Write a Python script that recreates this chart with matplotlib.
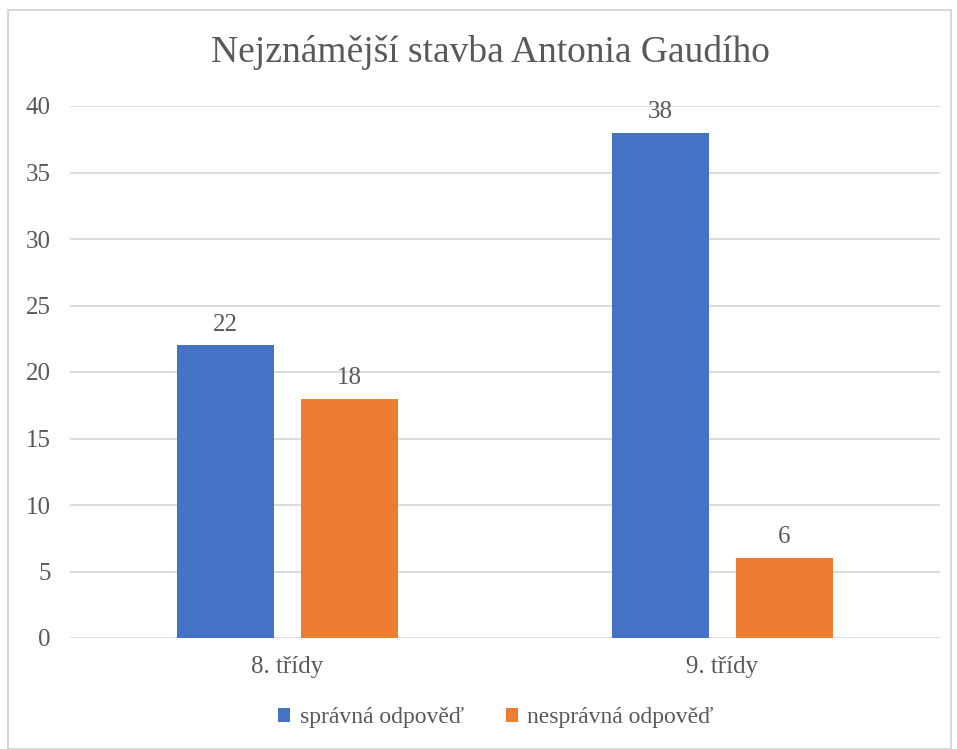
import matplotlib
matplotlib.use("Agg")
import matplotlib.pyplot as plt
from matplotlib.patches import Rectangle
import numpy as np

categories = ["8. třídy", "9. třídy"]
series_names = ["správná odpověď", "nesprávná odpověď"]
correct = [22, 38]
incorrect = [18, 6]
yticks = [0, 5, 10, 15, 20, 25, 30, 35, 40]

blue = "#4472C4"
orange = "#ED7D31"
grid = "#D9D9D9"
txt = "#595959"

plt.rcParams['font.family'] = ['Liberation Serif', 'DejaVu Serif']

fig = plt.figure(figsize=(9.57, 7.49), dpi=100)
fig.patches.append(Rectangle((8/957, 0), (951-8)/957, 1 - 10/749, transform=fig.transFigure,
                             fill=False, edgecolor=grid, linewidth=1.5))

ax = fig.add_axes([70/957, 1 - 638/749, (940-70)/957, (638-106)/749])
x = np.arange(len(categories))
w = 0.223
off = 0.1425
b1 = ax.bar(x - off, correct, w, color=blue, label=series_names[0], zorder=3)
b2 = ax.bar(x + off, incorrect, w, color=orange, label=series_names[1], zorder=3)
for bars, vals in ((b1, correct), (b2, incorrect)):
    for r, v in zip(bars, vals):
        ax.annotate(str(v), (r.get_x() + r.get_width()/2, v), xytext=(0, 7),
                    textcoords="offset points", ha="center", va="bottom",
                    fontsize=18, color=txt, zorder=4)

ax.set_xlim(-0.5, 1.5)
ax.set_ylim(0, 40)
ax.set_yticks(yticks)
ax.set_xticks(x)
ax.set_xticklabels(categories)
ax.tick_params(axis='both', length=0, labelsize=18, labelcolor=txt)
ax.tick_params(axis='y', pad=14)
ax.tick_params(axis='x', pad=13)
ax.yaxis.grid(True, color=grid, linewidth=1.3, zorder=0)
for s in ax.spines.values():
    s.set_visible(False)

fig.text(490/957, 1 - 52/749, "Nejznámější stavba Antonia Gaudího", ha="center", va="center",
         fontsize=27, color=txt)

leg = fig.legend(handles=[b1, b2], labels=series_names, loc="center",
                 bbox_to_anchor=(496/957, 1 - 718/749), ncol=2, frameon=False,
                 prop={'family': 'Liberation Serif', 'size': 17},
                 handlelength=0.5, handleheight=0.5, handletextpad=0.4,
                 columnspacing=1.8, labelcolor=txt)

fig.savefig("out.png", dpi=100)
